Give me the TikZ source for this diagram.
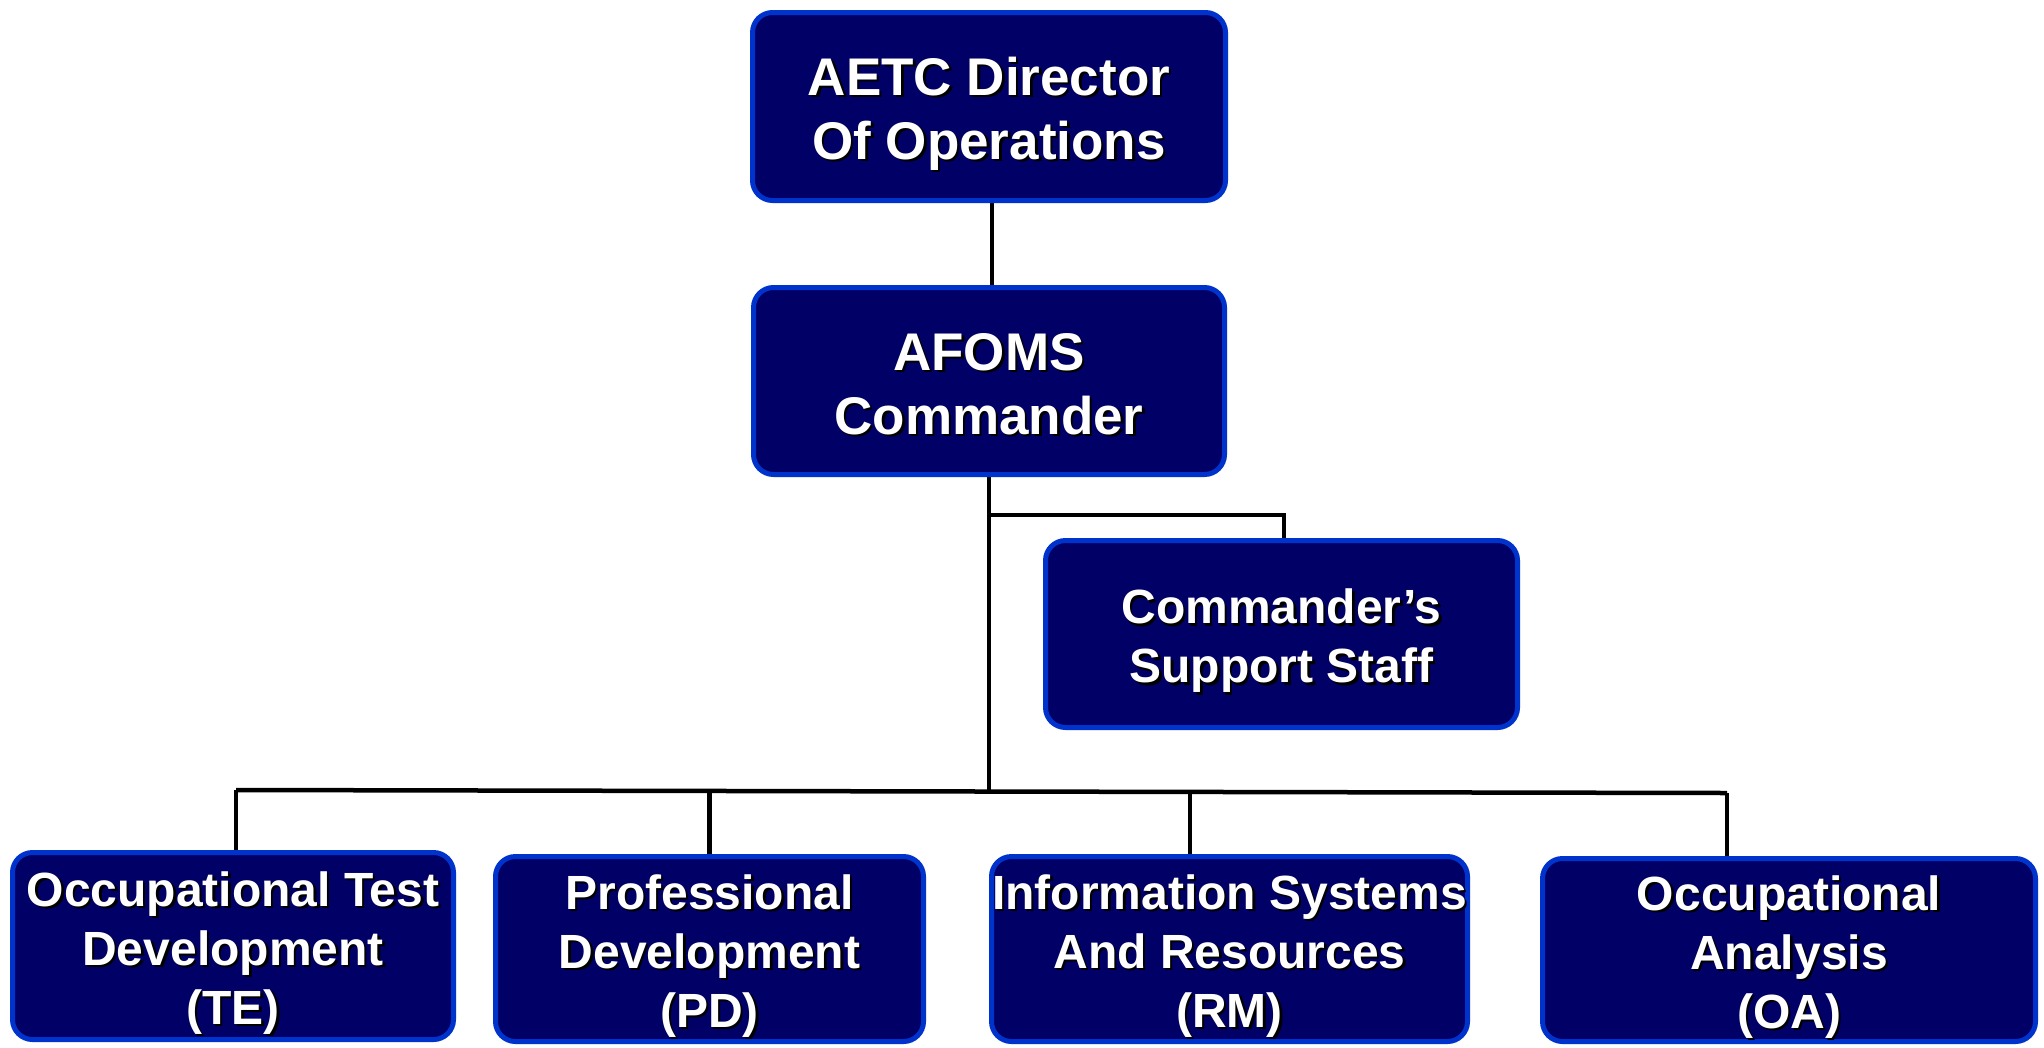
\documentclass[tikz,border=0pt]{standalone}
\usepackage{fontspec}
\setmainfont{Liberation Sans}
\usetikzlibrary{backgrounds}
\definecolor{boxfill}{HTML}{000066}
\definecolor{boxedge}{HTML}{0033CC}
\newcommand\shl[1]{\leavevmode\rlap{\hspace{2.5pt}\raisebox{-2.5pt}{\color{black}#1}}#1}
\newcommand\firstl{\rule{0pt}{\dimexpr0.716em+17pt\relax}}
\newcommand\lastl{\rule[-12pt]{0pt}{12pt}}
\tikzset{
  orgbox/.style={draw=boxedge, fill=boxfill, line width=5pt, rounded corners=20pt,
    inner sep=0pt, text=white, align=center, font=\bfseries\fontsize{53pt}{64pt}\selectfont},
  lowbox/.style={orgbox, font=\bfseries\fontsize{48pt}{59pt}\selectfont},
  link/.style={draw=black, line width=4.5pt}
}
\begin{document}
\begin{tikzpicture}[x=1pt,y=-1pt]
\useasboundingbox (0,0) rectangle (2044,1047);
\node[orgbox, minimum width=473pt, minimum height=188pt] (dir) at (989,106.5) {\firstl\shl{AETC Director}\\\shl{Of Operations}\lastl};
\node[orgbox, minimum width=471pt, minimum height=187pt] (afoms) at (989,381) {\firstl\shl{AFOMS}\\\shl{Commander}\lastl};
\node[lowbox, minimum width=472pt, minimum height=187pt] (supp) at (1281.5,634) {\firstl\shl{Commander’s}\\\shl{Support Staff}\lastl};
\node[lowbox, minimum width=441pt, minimum height=187pt] (te) at (233,946) {\firstl\shl{Occupational Test}\\\shl{Development}\\\shl{(TE)}\lastl};
\node[lowbox, minimum width=428pt, minimum height=185pt] (pd) at (709.5,949) {\firstl\shl{Professional}\\\shl{Development}\\\shl{(PD)}\lastl};
\node[lowbox, minimum width=476pt, minimum height=185pt] (rm) at (1229.5,949) {\firstl\shl{Information Systems}\\\shl{And Resources}\\\shl{(RM)}\lastl};
\node[lowbox, minimum width=493pt, minimum height=183pt] (oa) at (1789,950) {\firstl\shl{Occupational}\\\shl{Analysis}\\\shl{(OA)}\lastl};
\coordinate (sb) at (989,515);
\coordinate (bus) at (989,791);
\coordinate (teb) at (236,790);
\coordinate (oab) at (1727,793);
\begin{pgfonlayer}{background}
\fill[white] (0,0) rectangle (2044,1047);
\draw[link] ([xshift=3pt]dir.south) -- ([xshift=3pt]afoms.north);
\draw[link] (afoms) -- (bus);
\draw[link] (sb) -| ([xshift=2.5pt]supp.north);
\draw[link] (teb) -- (oab);
\draw[link] (teb) -- (teb |- te.north);
\draw[link] (pd.north |- 0,791) -- (pd.north);
\draw[link] (1190,791.5) -- (1190,0 |- rm.north);
\draw[link] (oab) -- (oab |- oa.north);
\end{pgfonlayer}
\end{tikzpicture}
\end{document}
